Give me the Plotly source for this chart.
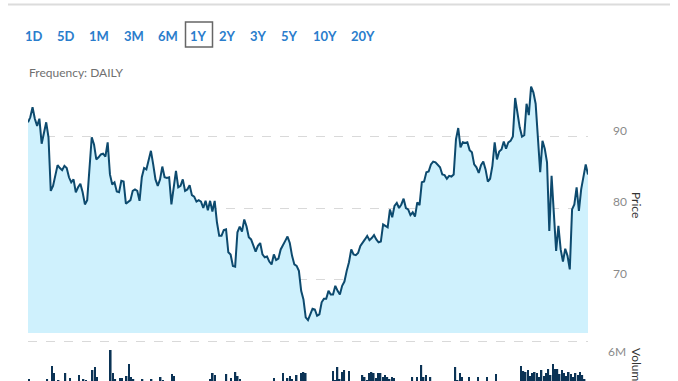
import plotly.graph_objects as go

# ---------------- data ----------------
price = [
    92.0, 92.7, 94.1, 92.5, 91.5, 92.5, 89.0, 90.4, 92.0, 89.9,
    82.4, 83.1, 84.8, 86.0, 85.6, 85.3, 85.9, 85.6, 84.3, 83.6,
    84.0, 82.2, 82.9, 83.4, 82.2, 80.5, 81.1, 85.7, 89.9, 88.9,
    86.8, 87.1, 87.5, 87.6, 87.2, 89.2, 84.7, 83.3, 83.6, 82.3,
    82.2, 83.8, 83.7, 80.6, 80.8, 81.1, 82.4, 82.6, 82.4, 81.0,
    84.3, 85.6, 85.4, 86.6, 88.0, 86.1, 84.0, 83.1, 84.0, 85.8,
    84.3, 84.2, 84.3,
    80.5, 83.1, 85.2, 82.9, 83.1, 84.0, 82.4, 82.6, 83.2, 81.8,
    81.6, 80.9, 81.1, 80.9, 80.0, 81.0, 79.7, 81.0, 79.5, 81.0,
    78.0, 76.1, 76.1, 76.9, 77.0, 73.8, 73.5, 71.9, 71.8, 76.6,
    77.4, 76.7, 78.4, 77.4, 75.9, 75.6, 74.8, 73.9, 74.7, 75.1,
    73.5, 73.1, 73.2, 72.5, 72.1, 73.5, 72.7, 72.9, 74.2, 74.9,
    75.4, 76.0, 75.1, 73.3, 72.1, 71.9, 71.2, 68.4, 67.2, 64.7,
    64.3,
    65.1, 65.9, 65.8, 64.9, 65.1, 66.8, 67.3, 67.3, 68.4, 67.9,
    67.9, 69.1, 68.4, 67.9, 69.1, 69.7, 71.2, 72.4, 74.2, 73.5,
    73.4, 73.7, 74.7, 75.1, 75.6, 76.1, 75.5, 75.8, 76.2, 75.6,
    75.2, 75.3, 77.7, 77.5, 77.3, 79.8, 78.7, 80.3, 80.7, 80.0,
    80.5, 81.3, 80.0, 79.8, 79.0, 79.4, 78.8, 80.8, 80.4, 83.6,
    83.7, 85.0, 85.1, 86.1, 86.5, 86.4, 86.0, 85.7, 84.7, 84.6,
    84.1, 84.5,
    84.4, 84.7, 89.6, 91.2, 88.5, 89.2, 89.1, 89.2, 88.1, 87.8,
    86.1, 85.7, 84.9, 86.0, 86.5, 85.4, 83.7, 84.1, 85.9, 89.2,
    86.8, 87.9, 88.2, 89.3, 88.3, 89.2, 89.4, 90.0, 95.4, 93.4,
    91.3, 90.0, 90.2, 94.6, 93.0, 97.0, 96.2, 94.6, 89.6, 85.0,
    89.4, 88.3, 86.4, 76.8, 84.5, 79.4, 74.0, 77.5, 74.2, 72.5,
    74.3, 73.3, 71.4, 79.8, 80.5, 82.9, 79.6, 82.6, 84.5, 86.1,
    84.7,
]

# volume in millions
volume = [
    2.2, 1.5, 1.7, 1.4, 1.6, 1.8, 1.5, 1.6, 2.2, 1.7,
    3.5, 2.8, 1.8, 2.1, 1.5, 1.7, 2.8, 1.6, 2.3, 1.5,
    1.7, 1.6, 2.6, 1.8, 2.2, 2.1, 1.6, 1.5, 3.1, 3.4,
    2.4, 1.7, 1.6, 1.5, 1.8, 1.7, 5.1, 2.8, 2.2, 1.9,
    2.3, 2.3, 1.8, 2.5, 3.7, 2.4, 2.2, 1.7, 1.6, 1.5,
    2.2, 1.7, 1.6, 1.5, 2.2, 1.6, 1.5, 1.7, 2.4, 2.1,
    1.6, 1.5, 1.8, 2.7, 2.5, 1.7, 1.6, 1.5, 1.6, 1.8,
    1.4, 1.5, 1.7, 1.6, 1.5, 1.4, 1.6, 1.7, 1.5, 1.8,
    2.2, 2.8, 2.6, 1.7, 1.6, 1.5, 1.8, 2.7, 1.9, 2.3,
    1.8, 2.9, 2.5, 2.2, 1.6, 1.5, 1.7, 1.4, 1.6, 1.5,
    1.8, 1.6, 1.5, 1.4, 1.7, 1.6, 1.5, 1.8, 2.3, 1.6,
    1.5, 1.9, 2.8, 1.9, 2.3, 2.5, 2.2, 1.9, 2.6, 2.0,
    2.8, 2.9, 2.8, 1.8, 1.6, 1.5, 1.7, 1.6, 1.5, 1.8,
    1.6, 1.7, 1.5, 1.9, 3.0, 2.1, 3.4, 2.2, 2.9, 3.1,
    2.0, 3.0, 1.8, 1.6, 1.5, 1.7, 1.9, 2.6, 2.4, 2.1,
    2.8, 2.9, 2.8, 2.3, 2.8, 2.8, 2.4, 2.6, 2.4, 2.2,
    2.4, 2.3, 1.8, 1.6, 1.5, 1.7, 1.6, 1.5, 1.9, 2.4,
    1.9, 2.4, 1.9, 3.6, 2.4, 2.6, 2.0, 2.4, 1.7, 1.6,
    1.5, 1.8, 1.6, 1.5, 1.7, 1.6, 1.5, 1.9, 3.4, 2.1,
    2.8, 2.4, 1.8, 1.7, 2.4, 1.8, 1.6, 1.7, 2.4, 1.8,
    1.6, 1.7, 2.4, 1.8, 1.6, 1.7, 2.7, 1.8, 1.6, 1.5,
    1.7, 1.6, 1.5, 1.8, 1.6, 1.7, 1.9, 3.5, 3.0, 2.9,
    3.1, 2.5, 2.8, 2.9, 2.8, 2.4, 3.1, 2.5, 2.8, 3.2,
    2.6, 3.7, 3.2, 3.2, 2.7, 3.1, 2.8, 2.5, 2.9, 2.7,
    2.4, 2.8, 2.6, 2.9, 2.6, 2.2, 2.0,
]

day = list(range(len(price)))

price_ticks = [70, 80, 90]
volume_ticks = [6]
volume_tick_text = ["6M"]
range_buttons = ["1D", "5D", "1M", "3M", "6M", "1Y", "2Y", "3Y", "5Y", "10Y", "20Y"]
selected_button = "1Y"

# ---------------- figure ----------------
W, H = 678, 381
FONT = "Lato, 'Open Sans', sans-serif"

def px(x):
    return x / W

def py(y):
    return 1 - y / H

fig = go.Figure()

fig.add_trace(go.Scatter(
    x=day, y=price, mode="lines",
    line=dict(color="#0d4a6e", width=2),
    fill="tozeroy", fillcolor="#cff1fd",
    xaxis="x", yaxis="y", hoverinfo="skip",
))

fig.add_trace(go.Bar(
    x=day, y=volume, marker=dict(color="#0b3355", line=dict(width=0)),
    xaxis="x2", yaxis="y2", hoverinfo="skip",
))

x_dom = [px(28), px(588)]

fig.update_layout(
    width=W, height=H,
    margin=dict(l=0, r=0, t=0, b=0),
    paper_bgcolor="white", plot_bgcolor="white",
    showlegend=False,
    bargap=0.3,
    font=dict(family=FONT),
    xaxis=dict(domain=x_dom, range=[0, len(price) - 1], visible=False,
               anchor="y"),
    xaxis2=dict(domain=x_dom, range=[-0.5, len(price) - 0.5], visible=False,
                anchor="y2"),
    yaxis=dict(
        domain=[py(333), py(83)], range=[62.5, 97.5], side="right",
        anchor="x", tickvals=price_ticks, showgrid=True,
        gridcolor="#d9d9d9", griddash="dash", gridwidth=1,
        zeroline=False, showline=False, ticks="",
        tickfont=dict(size=12, color="#8a8a8a", family=FONT),
        ticklabelstandoff=24, ticklabelshift=-6,
    ),
    yaxis2=dict(
        domain=[0, py(337)], range=[2, 6.4], side="right",
        anchor="x2", tickvals=volume_ticks, ticktext=volume_tick_text,
        showgrid=True, gridcolor="#d9d9d9", griddash="dash", gridwidth=1,
        zeroline=False, showline=False, ticks="",
        tickfont=dict(size=12, color="#8a8a8a", family=FONT),
        ticklabelstandoff=19, ticklabelshift=11,
    ),
)

# top separator line
fig.add_shape(type="line", xref="paper", yref="paper",
              x0=px(8), x1=px(670), y0=py(4.5), y1=py(4.5),
              line=dict(color="#dcdcdc", width=2))

# range buttons
btn_x = [34, 65.7, 99.5, 133.5, 167.7, 199, 227.5, 258.7, 289.5, 325, 363]
for label, bx in zip(range_buttons, btn_x):
    fig.add_annotation(
        x=px(bx), y=py(35.5), xref="paper", yref="paper",
        text=label, showarrow=False, xanchor="center", yanchor="middle",
        font=dict(size=13, color="#2a7dcc", family=FONT, weight="bold"),
    )
    if label == selected_button:
        fig.add_shape(type="rect", xref="paper", yref="paper",
                      x0=px(185.5), x1=px(212.5), y0=py(47), y1=py(22),
                      line=dict(color="#666666", width=1.5))

fig.add_annotation(
    x=px(27), y=py(72), xref="paper", yref="paper",
    text="Frequency: DAILY", showarrow=False, xanchor="left", yanchor="middle",
    font=dict(size=12, color="#6f6f6f", family=FONT),
)

fig.add_annotation(
    x=px(637), y=py(205), xref="paper", yref="paper",
    text="Price", showarrow=False, textangle=90,
    xanchor="center", yanchor="middle",
    font=dict(size=12, color="#333333", family=FONT),
)
fig.add_annotation(
    x=px(637), y=py(368), xref="paper", yref="paper",
    text="Volume", showarrow=False, textangle=90,
    xanchor="center", yanchor="middle",
    font=dict(size=12, color="#333333", family=FONT),
)

fig.write_html(
    "out.html",
    config={"displayModeBar": False},
    post_script="document.body.style.margin='0';document.body.style.overflow='hidden';",
)
